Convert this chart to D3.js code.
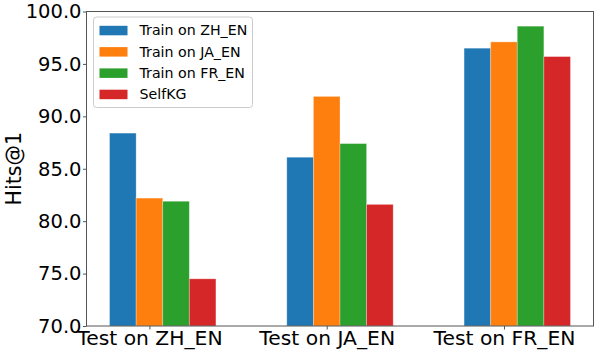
<!DOCTYPE html>
<html>
<head>
<meta charset="utf-8">
<script src="https://cdn.jsdelivr.net/npm/d3@7"></script>
<style>
  body { margin: 0; background: #fff; }
  text { font-family: "DejaVu Sans", sans-serif; }
</style>
</head>
<body>
<svg id="chart" width="598" height="354"></svg>
<script>
// data
const categories = ["Test on ZH_EN", "Test on JA_EN", "Test on FR_EN"];
const seriesNames = ["Train on ZH_EN", "Train on JA_EN", "Train on FR_EN", "SelfKG"];
const trainZH = [88.4, 86.1, 96.5];
const trainJA = [82.2, 91.9, 97.1];
const trainFR = [81.9, 87.4, 98.6];
const selfKG = [74.5, 81.6, 95.7];
const yTicks = [70, 75, 80, 85, 90, 95, 100];

const series = [trainZH, trainJA, trainFR, selfKG];
const colors = ["#1f77b4", "#ff7f0e", "#2ca02c", "#d62728"];

// plot box
let margin = {top: 11.5, right: 4.5, bottom: 28, left: 86.5},
    width = 598 - margin.left - margin.right,
    height = 354 - margin.top - margin.bottom;

const barW = 0.15;

// category index scale, like matplotlib's numeric x with auto margins
const x = d3.scaleLinear()
    .domain([-0.355, 2.505])
    .range([0, width]);

const y = d3.scaleLinear()
    .domain([70, 100])
    .range([height, 0]);

let svg = d3.select("#chart")
    .append("g")
    .attr("transform", "translate(" + margin.left + "," + margin.top + ")");

// bars: offsets -1,0,1,2 bar widths from the tick
series.forEach(function (vals, s) {
    svg.selectAll(".bar" + s)
        .data(vals)
        .enter().append("rect")
        .attr("class", "bar" + s)
        .attr("x", function (d, i) { return x(i + (s - 1) * barW - barW / 2); })
        .attr("width", x(barW) - x(0))
        .attr("y", function (d) { return y(d); })
        .attr("height", function (d) { return height - y(d); })
        .attr("fill", colors[s])
        .attr("stroke", "#fff")
        .attr("stroke-opacity", 0.35)
        .attr("stroke-width", 0.8);
});

// y axis
let yAxis = svg.append("g")
    .call(d3.axisLeft(y).tickValues(yTicks).tickFormat(d3.format(".1f")).tickSizeOuter(0).tickSize(3.5).tickPadding(1.5));
yAxis.select(".domain").remove();
yAxis.selectAll("line").attr("stroke", "#555");
yAxis.selectAll("text")
    .attr("font-size", "19.5px")
    .attr("fill", "#000")
    .style("font-family", "DejaVu Sans");

// x axis
let xAxis = svg.append("g")
    .attr("transform", "translate(0," + height + ")")
    .call(d3.axisBottom(x).tickValues([0, 1, 2]).tickFormat(function (d) { return categories[d]; })
        .tickSizeOuter(0).tickSize(3.5).tickPadding(1));
xAxis.select(".domain").remove();
xAxis.selectAll("line").attr("stroke", "#555");
xAxis.selectAll("text")
    .attr("font-size", "20.3px")
    .attr("fill", "#000")
    .style("font-family", "DejaVu Sans");

// frame
svg.append("rect")
    .attr("width", width)
    .attr("height", height)
    .attr("fill", "none")
    .attr("stroke", "#555")
    .attr("stroke-width", 1);

// y label
svg.append("text")
    .attr("transform", "translate(" + (14 - margin.left) + "," + (height / 2) + ") rotate(-90)")
    .attr("text-anchor", "middle")
    .attr("dominant-baseline", "central")
    .attr("font-size", "20.5px")
    .text("Hits@1");

// legend
let legend = svg.append("g")
    .attr("transform", "translate(" + (93.5 - margin.left) + "," + (17 - margin.top) + ")");
legend.append("rect")
    .attr("width", 159)
    .attr("height", 90.5)
    .attr("rx", 3)
    .attr("fill", "#fff")
    .attr("fill-opacity", 0.8)
    .attr("stroke", "#ccc");
seriesNames.forEach(function (name, i) {
    let row = legend.append("g")
        .attr("transform", "translate(0," + (13.3 + i * 21.3) + ")");
    row.append("rect")
        .attr("x", 6)
        .attr("y", -4.5)
        .attr("width", 28)
        .attr("height", 9.5)
        .attr("fill", colors[i]);
    row.append("text")
        .attr("x", 46)
        .attr("dy", "0.35em")
        .attr("font-size", "14.2px")
        .text(name);
});
</script>
</body>
</html>
